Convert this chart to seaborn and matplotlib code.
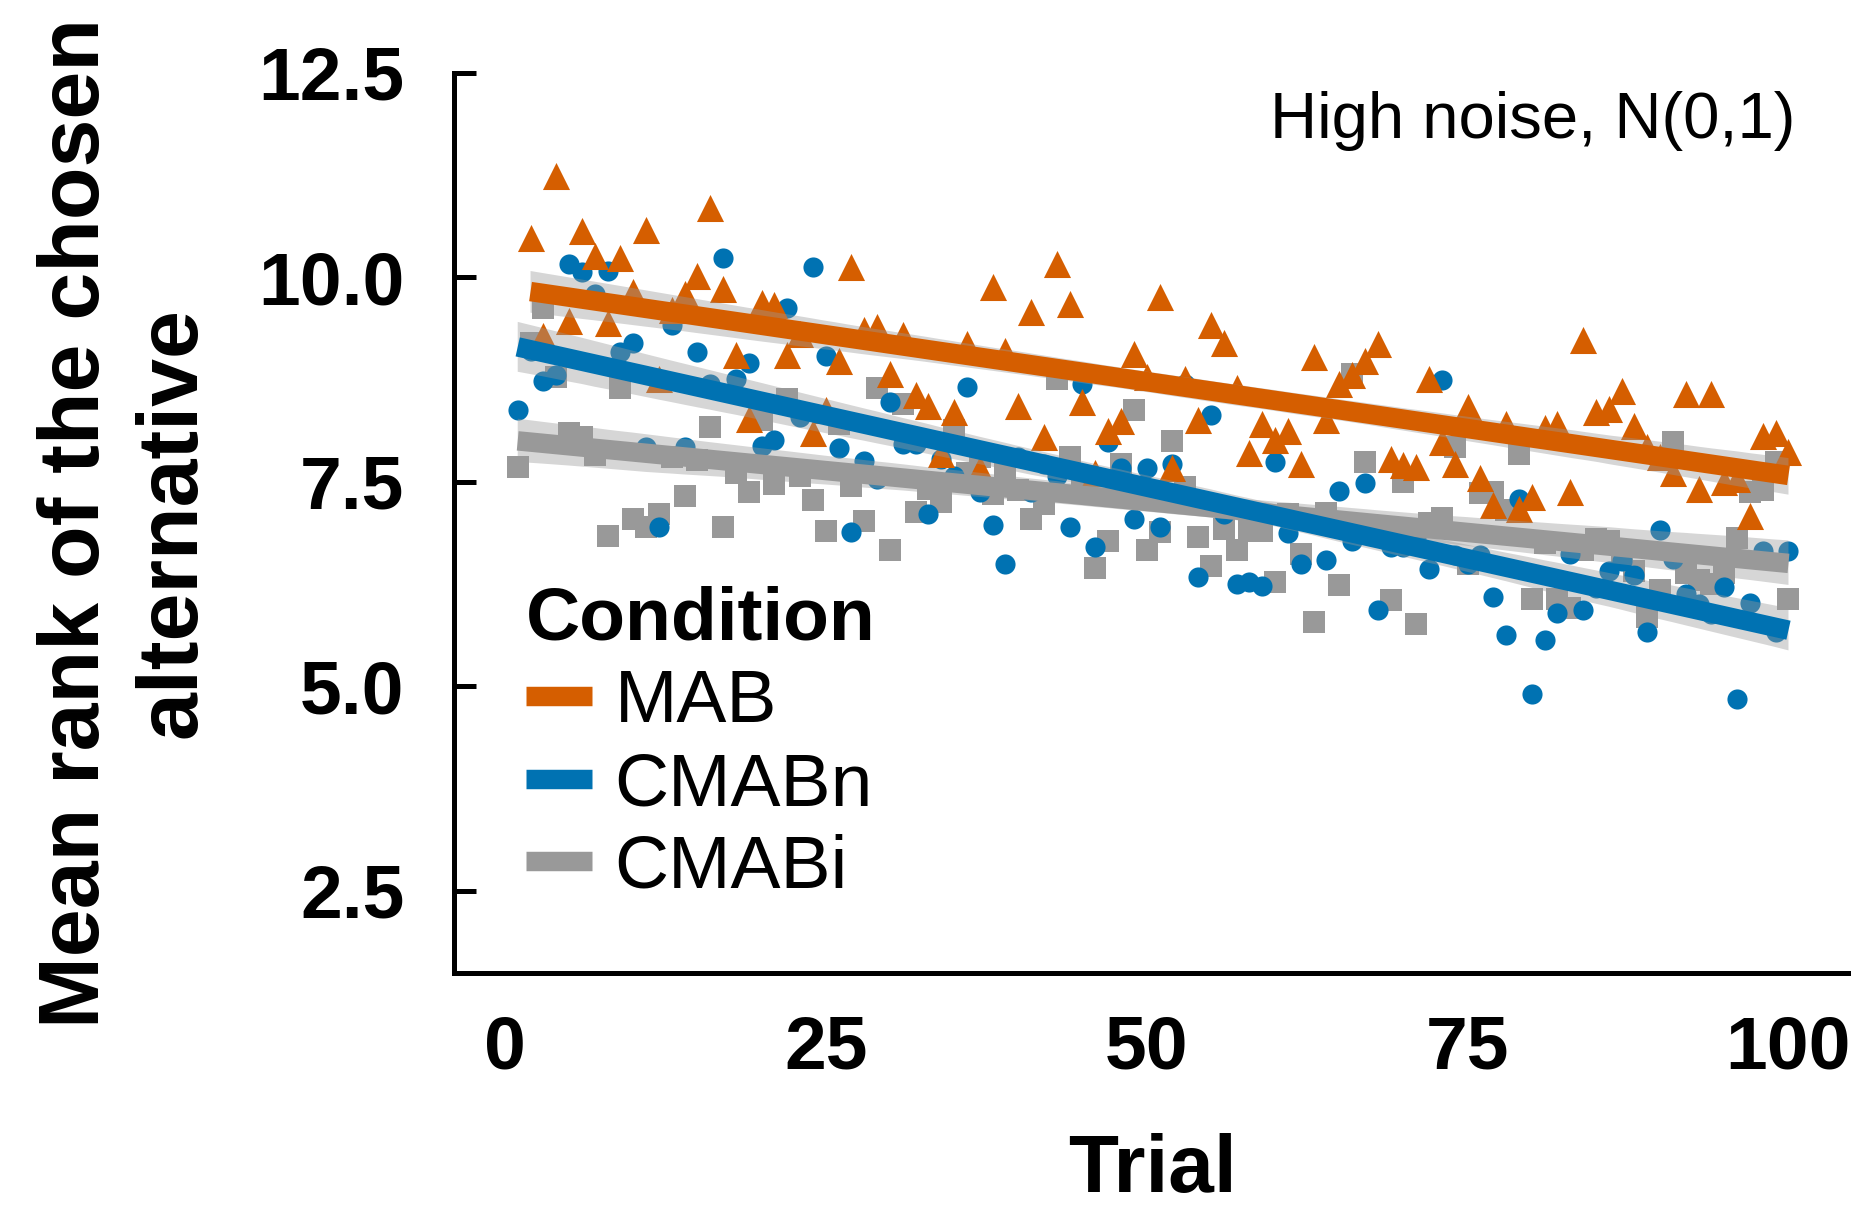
"""
Mean rank of the chosen alternative per trial, by condition (high noise)
"""

## Import packages
import pandas as pd
import matplotlib
matplotlib.use('Agg')
import matplotlib.pyplot as plt
import matplotlib.transforms as mtransforms
from matplotlib.lines import Line2D
import seaborn as sns


## Data
trial_mab = list(range(2, 101))
rank_mab = [10.48, 9.28, 11.24, 9.46, 10.56, 10.26, 9.44, 10.24, 9.82, 10.58,
            8.75, 9.60, 9.80, 10.02, 10.85, 9.86, 9.05, 8.27, 9.68, 9.66,
            9.05, 9.30, 8.10, 8.37, 8.97, 10.13, 9.35, 9.39, 8.82, 9.29,
            8.56, 8.43, 7.84, 8.35, 9.18, 7.66, 9.88, 9.10, 8.43, 9.57,
            8.05, 10.16, 9.67, 8.47, 7.60, 8.12, 8.24, 9.06, 8.78, 9.76,
            7.67, 8.76, 8.25, 9.41, 9.20, 8.64, 7.85, 8.20, 8.01, 8.12,
            7.72, 9.02, 8.25, 8.69, 8.80, 8.98, 9.18, 7.78, 7.70, 7.68,
            8.76, 7.98, 7.72, 8.41, 7.55, 7.21, 8.20, 7.17, 7.31, 8.16,
            8.20, 7.37, 9.23, 8.35, 8.39, 8.61, 8.18, 7.92, 7.80, 7.61,
            8.57, 7.41, 8.57, 7.49, 7.53, 7.08, 8.06, 8.10, 7.86]

trial_all = list(range(1, 101))
rank_cmabn = [8.37, 9.10, 8.73, 8.81, 10.16, 10.06, 9.79, 10.08, 9.08, 9.20,
              7.92, 6.95, 9.41, 7.92, 9.08, 8.70, 10.24, 8.75, 8.95, 7.94,
              8.01, 9.62, 8.29, 10.12, 9.04, 7.91, 6.89, 7.75, 7.53, 8.47,
              7.96, 7.96, 7.10, 7.78, 7.57, 8.66, 7.37, 6.97, 6.49, 7.80,
              7.37, 7.72, 7.57, 6.95, 8.69, 6.70, 7.98, 7.67, 7.04, 7.67,
              6.94, 7.71, 8.69, 6.33, 8.31, 7.10, 6.25, 6.27, 6.23, 7.74,
              6.87, 6.49, 7.00, 6.54, 7.39, 6.78, 7.48, 5.93, 6.70, 6.70,
              6.80, 6.43, 8.74, 6.60, 6.49, 6.60, 6.09, 5.62, 7.29, 4.91,
              5.56, 5.89, 6.62, 5.93, 6.20, 6.41, 6.53, 6.36, 5.66, 6.91,
              6.55, 6.13, 6.00, 5.88, 6.21, 4.84, 6.02, 6.65, 5.66, 6.65]

rank_cmabi = [7.68, 9.20, 9.62, 8.78, 8.10, 8.04, 7.82, 6.84, 8.65, 7.04,
              6.95, 7.10, 7.80, 7.32, 7.76, 8.17, 6.95, 7.61, 7.37, 8.25,
              7.47, 8.51, 7.57, 7.27, 6.90, 8.20, 7.45, 7.02, 8.65, 6.66,
              8.45, 7.13, 7.41, 7.25, 8.13, 7.60, 7.80, 7.35, 7.59, 7.40,
              7.04, 7.23, 8.76, 7.80, 7.50, 6.45, 6.77, 7.72, 8.38, 6.66,
              6.88, 8.00, 7.43, 6.82, 6.47, 6.92, 6.66, 6.90, 6.90, 6.27,
              7.10, 6.62, 5.79, 7.12, 6.24, 8.82, 7.74, 6.85, 6.05, 7.49,
              5.76, 7.00, 7.06, 7.92, 6.49, 7.36, 7.37, 7.15, 7.84, 6.07,
              6.75, 6.07, 5.96, 6.66, 6.80, 6.78, 6.60, 6.41, 5.84, 6.17,
              7.98, 6.38, 6.30, 6.25, 6.38, 6.81, 7.37, 7.40, 7.74, 6.07]

conditions = ['MAB', 'CMABn', 'CMABi']
y_ticks = [2.5, 5.0, 7.5, 10.0, 12.5]
x_ticks = [0, 25, 50, 75, 100]

# Build long dataframe
df = pd.concat([
    pd.DataFrame({'trial': trial_mab, 'rank': rank_mab, 'condition': 'MAB'}),
    pd.DataFrame({'trial': trial_all, 'rank': rank_cmabn, 'condition': 'CMABn'}),
    pd.DataFrame({'trial': trial_all, 'rank': rank_cmabi, 'condition': 'CMABi'}),
], ignore_index=True)


## Style
colors = {'MAB': '#D55E00', 'CMABn': '#0072B2', 'CMABi': '#999999'}
markers = {'MAB': '^', 'CMABn': 'o', 'CMABi': 's'}
sizes = {'MAB': 380, 'CMABn': 210, 'CMABi': 230}

tick_size = 54
label_size = 59
legend_size = 54
note_size = 47

sns.set_theme(style='white')
plt.rcParams['font.family'] = ['Liberation Sans', 'DejaVu Sans']
plt.rcParams.update({'text.color': 'black', 'axes.labelcolor': 'black',
                     'xtick.color': 'black', 'ytick.color': 'black'})

fig = plt.figure(figsize=(18.51, 12.07), dpi=100)
ax = fig.add_axes([0.2455, 0.1939, 0.7545, 0.7459])

# Points (drawn grey first, orange last)
draw_order = ['CMABi', 'CMABn', 'MAB']
for cond in draw_order:
    sub = df[df['condition'] == cond]
    sns.scatterplot(data=sub, x='trial', y='rank', ax=ax, color=colors[cond],
                    marker=markers[cond], s=sizes[cond], linewidth=0, legend=False)

# Linear fits with grey confidence bands
for cond in draw_order:
    sub = df[df['condition'] == cond]
    sns.regplot(data=sub, x='trial', y='rank', ax=ax, scatter=False, ci=95, seed=3,
                color=colors[cond], line_kws={'lw': 14, 'solid_capstyle': 'butt'})
    band = ax.collections[-1]
    band.set_facecolor('#999999')
    band.set_edgecolor('none')
    band.set_alpha(0.4)

## Axes
ax.set_xlim(-3.93, 104.87)
ax.set_ylim(1.494, 12.5)
ax.set_xticks(x_ticks)
ax.set_xticklabels([str(t) for t in x_ticks], fontsize=tick_size, fontweight='bold')
ax.set_yticks(y_ticks)
ax.set_yticklabels(['{:.1f}'.format(t) for t in y_ticks], fontsize=tick_size, fontweight='bold')
ax.tick_params(axis='y', left=True, direction='in', length=16, width=3.6, pad=36, colors='black')
ax.tick_params(axis='x', bottom=True, length=0, pad=30, colors='black')

for side in ['top', 'right']:
    ax.spines[side].set_visible(False)
for side in ['left', 'bottom']:
    ax.spines[side].set_linewidth(3.6)
    ax.spines[side].set_color('black')

ax.set_xlabel('Trial', fontsize=label_size, fontweight='bold')
ax.xaxis.set_label_coords(0.5, 15 / 1207,
                          transform=mtransforms.blended_transform_factory(ax.transAxes, fig.transFigure))
ax.xaxis.label.set_va('baseline')

ax.set_ylabel('Mean rank of the chosen\nalternative', fontsize=62,
              fontweight='bold', linespacing=1.25)
ax.yaxis.set_label_coords(213 / 1851, 0.5,
                          transform=mtransforms.blended_transform_factory(fig.transFigure, ax.transAxes))

# Legend
handles = [Line2D([], [], color=colors[c], lw=14, solid_capstyle='butt') for c in conditions]
leg = ax.legend(handles, conditions, title='Condition', loc='upper left',
                bbox_to_anchor=(526 / 1851, 1 - 586 / 1207), bbox_transform=fig.transFigure,
                frameon=False, borderpad=0, borderaxespad=0, fontsize=legend_size,
                title_fontproperties={'weight': 'bold', 'size': legend_size},
                handlelength=0.88, handletextpad=0.3, labelspacing=0.18, alignment='left')
leg.get_title().set_color('black')
for txt in leg.get_texts():
    txt.set_color('black')

# Panel annotation
fig.text(1795.6 / 1851, 1 - 138 / 1207, 'High noise, N(0,1)', ha='right', va='baseline',
         fontsize=note_size, color='black')

plt.savefig('out.png', dpi=100)
